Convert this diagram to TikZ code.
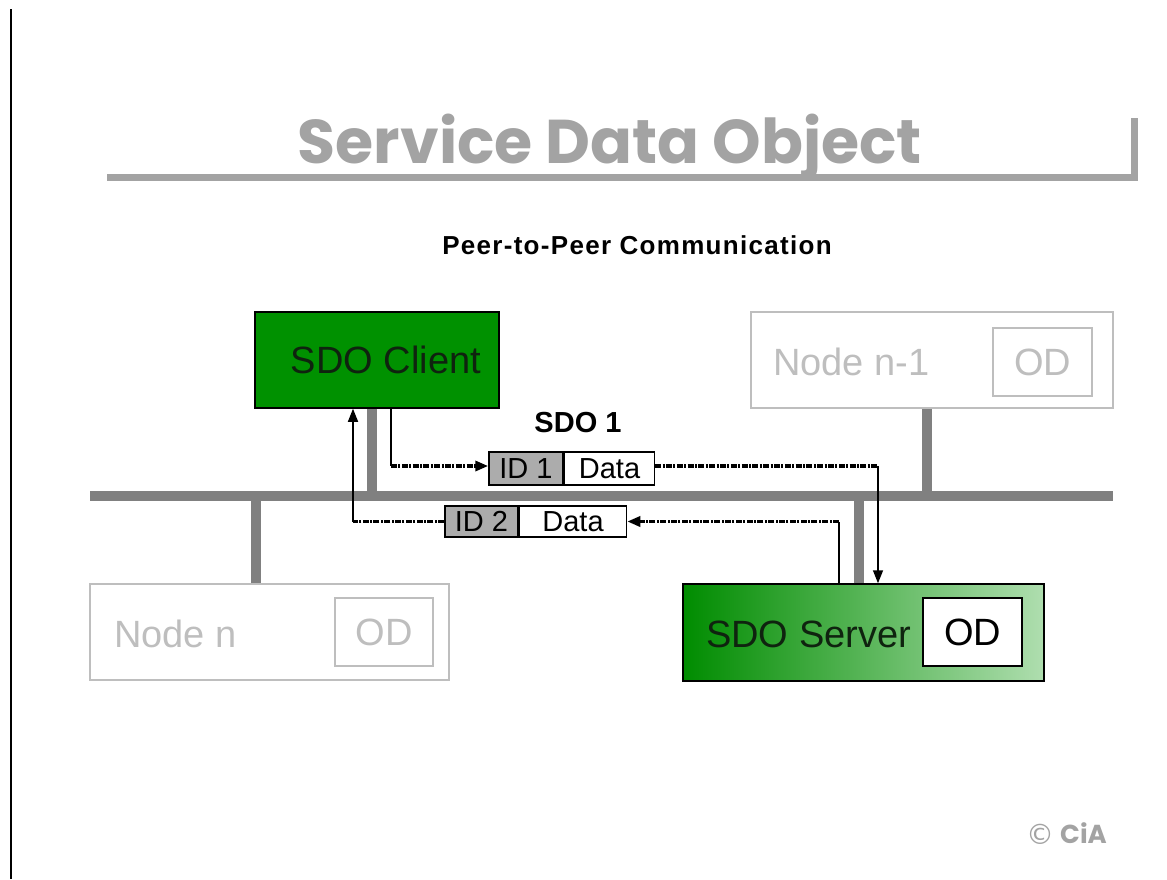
\documentclass[tikz,border=0pt]{standalone}
\usepackage{fontspec}
\setmainfont{Liberation Sans}
\newfontfamily\titlefont{Poppins}
\usetikzlibrary{arrows.meta}

\definecolor{titlegray}{RGB}{163,163,163}
\definecolor{busgray}{RGB}{128,128,128}
\definecolor{palegray}{RGB}{190,190,190}
\definecolor{idgray}{RGB}{172,172,172}
\definecolor{clientgreen}{RGB}{0,145,0}
\definecolor{servergreenA}{RGB}{0,140,0}
\definecolor{servergreenB}{RGB}{175,222,175}
\definecolor{darktext}{RGB}{15,35,15}

\tikzset{
  box/.style={rectangle, draw=black, line width=1.5pt, inner sep=0pt},
  ghost/.style={rectangle, draw=palegray, line width=1.5pt, inner sep=0pt},
  bigtext/.style={font=\fontsize{38}{40}\selectfont, inner sep=0pt},
  frametext/.style={font=\fontsize{29}{31}\selectfont, inner sep=0pt},
  bus/.style={busgray, line width=10pt},
  wire/.style={black, line width=1.5pt},
  msg/.style={black, line width=3.6pt, dash pattern=on 6pt off 1.4pt on 2pt off 1.4pt},
  tip/.style={-{Triangle[length=13pt,width=10pt]}},
  wtip/.style={-{Triangle[length=13pt,width=10pt]}},
}

\begin{document}
\begin{tikzpicture}[x=1pt,y=-1pt]
\useasboundingbox (0,0) rectangle (1167,879);

% page frame edge
\draw[black, line width=2pt] (11,9) -- (11,879);

% heading with its underline
\node[titlegray, inner sep=0pt] (title) at (610,147)
  {\resizebox{624pt}{!}{\titlefont\bfseries Service Data Object}};
\draw[titlegray, line width=7pt] (107,177) -- (1134.5,177) -- (1134.5,118);

\node[font=\addfontfeature{LetterSpace=5}\fontsize{26}{28}\selectfont\bfseries, inner sep=0pt]
  (subtitle) at (637,245) {Peer-to-Peer Communication};

% CAN bus and drop lines
\coordinate (busL) at (90,496);
\coordinate (busR) at (1113,496);
\draw[bus] (busL) -- (busR);

% devices
\node[box, fill=clientgreen, minimum width=244pt, minimum height=96pt] (client) at (377,360) {};
\node[bigtext, darktext] (clientlbl) at (386,360) {SDO Client};

\node[ghost, minimum width=362pt, minimum height=96pt] (nodeA) at (932,360) {};
\node[bigtext, palegray, anchor=west] (nodeAlbl) at (773,362) {Node n-1};
\node[ghost, minimum width=99pt, minimum height=68pt, bigtext, palegray] (odA) at (1042.5,362) {OD};

\node[ghost, minimum width=359pt, minimum height=96pt] (nodeB) at (269.5,632) {};
\node[bigtext, palegray, anchor=west] (nodeBlbl) at (114,634) {Node n};
\node[ghost, minimum width=98pt, minimum height=68pt, bigtext, palegray] (odB) at (384,632) {OD};

\node[box, left color=servergreenA, right color=servergreenB, minimum width=361pt, minimum height=97pt] (server) at (863.5,632.5) {};
\node[bigtext, darktext, anchor=west] (serverlbl) at (706,634) {SDO Server};
\node[box, fill=white, minimum width=99pt, minimum height=68pt, bigtext] (odS) at (972.5,632) {OD};

% drop lines to the bus
\draw[bus] (client.south -| 372,0) -- (372,496);
\draw[bus] (nodeA.south -| 927,0) -- (927,496);
\draw[bus] (nodeB.north -| 256,0) -- (256,496);
\draw[bus] (server.north -| 859,0) -- (859,496);

% SDO frames
\node[font=\fontsize{29}{31}\selectfont\bfseries, inner sep=0pt] (sdo1) at (578,423) {SDO 1};
\node[box, fill=idgray, minimum width=74pt, minimum height=33pt, frametext] (id1) at (526,468.5) {ID 1};
\node[box, fill=white, minimum width=90pt, minimum height=33pt, frametext, anchor=west] (data1) at (id1.east) {Data};
\node[box, fill=idgray, minimum width=73pt, minimum height=31pt, frametext] (id2) at (481.5,521.5) {ID 2};
\node[box, fill=white, minimum width=107pt, minimum height=31pt, frametext, anchor=west] (data2) at (id2.east) {Data};

% request: client -> server
\coordinate (reqA) at (391,466);
\coordinate (reqB) at (878,466);
\draw[wire] (client.south -| reqA) -- (reqA);
\draw[msg, tip] (reqA) -- (id1.west |- reqA);
\draw[msg] (data1.east |- reqB) -- (reqB);
\draw[wire, wtip] (reqB) -- (server.north -| reqB);

% response: server -> client
\coordinate (rspA) at (839,521.5);
\coordinate (rspB) at (353,521.5);
\draw[wire] (server.north -| rspA) -- (rspA);
\draw[msg, tip] (rspA) -- (data2.east);
\draw[msg] (id2.west) -- (rspB);
\draw[wire, wtip] (rspB) -- (client.south -| rspB);

% copyright mark
\node[titlegray, font=\fontsize{28}{30}\selectfont, inner sep=0pt] (copy) at (1040,834) {\fontspec{DejaVu Sans}©};
\node[titlegray, font=\titlefont\bfseries\fontsize{26}{28}\selectfont, inner sep=0pt, anchor=west] (cia) at (1060,833) {CiA};
\end{tikzpicture}
\end{document}
